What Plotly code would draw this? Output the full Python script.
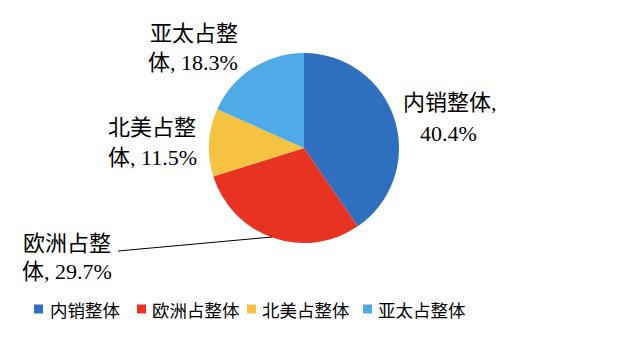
import plotly.graph_objects as go

categories = ["内销整体", "欧洲占整体", "北美占整体", "亚太占整体"]
values = [40.4, 29.7, 11.5, 18.3]
colors = ["#2E6FBF", "#E83323", "#F5C242", "#4EABE8"]
label_line1 = ["内销整体,", "欧洲占整", "北美占整", "亚太占整"]
label_line2 = ["40.4%", "体, 29.7%", "体, 11.5%", "体, 18.3%"]

W, H = 640, 343
FONT = "Liberation Serif, Noto Sans CJK SC, serif"

def px(x):
    return x / W

def py(y):
    return 1 - y / H

cx, cy, r = 304, 148, 95

fig = go.Figure(go.Pie(
    labels=categories,
    values=values,
    sort=False,
    direction="clockwise",
    rotation=0,
    marker=dict(colors=colors, line=dict(width=0)),
    textinfo="none",
    hoverinfo="label+percent",
    showlegend=False,
    domain=dict(x=[px(cx - r), px(cx + r)], y=[py(cy + r), py(cy - r)]),
))

# label positions (pixel, left x / center y for each line)
label_pos = [
    [(401, 103), (418, 133)],
    [(21, 243), (20, 271)],
    [(106, 128), (106, 157)],
    [(148, 33), (146, 62)],
]
annotations = []
shapes = []
for i in range(len(categories)):
    for line, (lx, ly) in zip([label_line1[i], label_line2[i]], label_pos[i]):
        annotations.append(dict(
            x=px(lx), y=py(ly), xref="paper", yref="paper",
            text=line, showarrow=False, xanchor="left", yanchor="middle",
            font=dict(family=FONT, size=22, color="#000000"),
        ))

shapes.append(dict(type="line", xref="paper", yref="paper",
                   x0=px(118), y0=py(251), x1=px(272), y1=py(237),
                   line=dict(color="#000000", width=1)))

# custom legend (symbol left x, text left x)
legend_pos = [(34, 48), (137, 150), (247, 260), (363, 376)]
ly = 309
for i, (sx, tx) in enumerate(legend_pos):
    shapes.append(dict(type="rect", xref="paper", yref="paper",
                       x0=px(sx), x1=px(sx + 9), y0=py(ly + 4.5), y1=py(ly - 4.5),
                       fillcolor=colors[i], line=dict(width=0)))
    annotations.append(dict(
        x=px(tx), y=py(ly), xref="paper", yref="paper",
        text=categories[i], showarrow=False, xanchor="left", yanchor="middle",
        font=dict(family="Noto Sans CJK SC, sans-serif", size=17.5, color="#000000"),
    ))

fig.update_layout(
    width=W, height=H,
    margin=dict(l=0, r=0, t=0, b=0),
    paper_bgcolor="white",
    plot_bgcolor="white",
    annotations=annotations,
    shapes=shapes,
    showlegend=False,
)

fig.write_html("out.html")
